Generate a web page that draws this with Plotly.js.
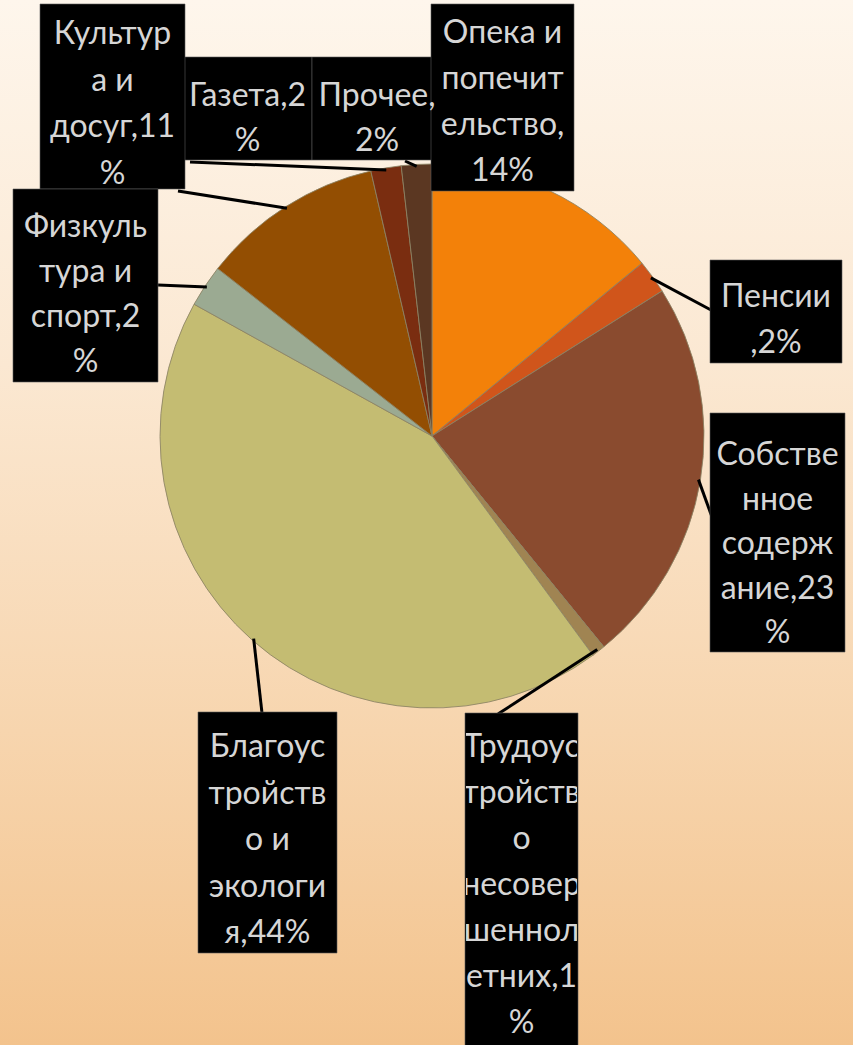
<!DOCTYPE html>
<html>
<head>
<meta charset="utf-8">
<script src="https://cdn.plot.ly/plotly-3.0.1.min.js"></script>
<style>
  html, body { margin: 0; padding: 0; }
  body {
    width: 853px; height: 1045px; overflow: hidden;
    background: linear-gradient(to bottom, #FEF6EC 0%, #FBE8D2 35%, #F7D5AE 70%, #F3C38D 100%);
  }
  #chart { width: 853px; height: 1045px; }
</style>
</head>
<body>
<div id="chart"></div>
<script>
// ---- Data ----
const labels = [
  'Опека и попечительство',
  'Пенсии',
  'Собственное содержание',
  'Трудоустройство несовершеннолетних',
  'Благоустройство и экология',
  'Физкультура и спорт',
  'Культура и досуг',
  'Газета',
  'Прочее'
];
const values = [14, 2, 23, 0.8, 43, 2.5, 10.8, 1.8, 1.8];
const colors = ['#F38109', '#D0551B', '#8A4B2F', '#A08452', '#C4BC72', '#9BAA92', '#934E02', '#7A2D10', '#5B3722'];
// label texts as drawn in the boxes (wrapped as in the original)
const labelLines = [
  ['Опека и', 'попечит', 'ельство,', '14%'],
  ['Пенсии', ',2%'],
  ['Собстве', 'нное', 'содерж', 'ание,23', '%'],
  ['Трудоус', 'тройств', 'о', 'несовер', 'шеннол', 'етних,1', '%'],
  ['Благоус', 'тройств', 'о и', 'экологи', 'я,44%'],
  ['Физкуль', 'тура и', 'спорт,2', '%'],
  ['Культур', 'а и', 'досуг,11', '%'],
  ['Газета,2', '%'],
  ['Прочее,', '2%']
];

// ---- Layout (positions, pixels) ----
const W = 853, H = 1045;
const pieCX = 432, pieCY = 436, pieR = 272;
// label boxes: [x0, y0, x1, y1, firstLineY, lineStep]
const boxes = [
  [431, 4, 574, 191, 30, 46],
  [710, 260, 842, 363, 294, 46],
  [710, 413, 845, 652, 452, 44.5],
  [465, 713, 578, 1050, 744, 46],
  [198, 712, 337, 953, 744, 46.5],
  [13, 189, 158, 382, 224, 45],
  [40, 4, 185, 189, 31, 46.5],
  [183, 57, 312, 160, 93, 45],
  [312, 57, 442, 160, 93, 45]
];
// where each leader line meets its box (null = no line)
const lineEnds = [null, [711, 310], [712, 517], [498, 714], [262, 713], [158, 285], [178, 191], [190, 162], [405, 161]];
// drawing order of boxes (later on top)
const boxOrder = [7, 8, 0, 6, 5, 1, 2, 3, 4];

const px = x => x / W;
const py = y => 1 - y / H;

// leader line start points from slice mid-angles
const total = values.reduce((a, b) => a + b, 0);
let cum = 0;
const shapes = [];
values.forEach((v, i) => {
  const mid = (cum + v / 2) / total * 2 * Math.PI;
  cum += v;
  if (!lineEnds[i]) return;
  const r = pieR - 2;
  const sx = pieCX + r * Math.sin(mid);
  const sy = pieCY - r * Math.cos(mid);
  shapes.push({
    type: 'line', xref: 'paper', yref: 'paper', layer: 'above',
    x0: px(sx), y0: py(sy), x1: px(lineEnds[i][0]), y1: py(lineEnds[i][1]),
    line: { color: '#000000', width: 3 }
  });
});
boxOrder.forEach(i => {
  const b = boxes[i];
  shapes.push({
    type: 'rect', xref: 'paper', yref: 'paper', layer: 'above',
    x0: px(b[0]), x1: px(b[2]), y0: py(b[3]), y1: py(b[1]),
    fillcolor: '#000000', line: { color: 'rgba(90,90,90,0.6)', width: 1 }
  });
});

const annotations = [];
boxOrder.forEach(i => {
  const b = boxes[i];
  const cx = (b[0] + b[2]) / 2;
  labelLines[i].forEach((t, k) => {
    annotations.push({
      xref: 'paper', yref: 'paper', showarrow: false,
      x: px(cx), y: py(b[4] + k * b[5]), xanchor: 'center', yanchor: 'middle',
      text: t, width: b[2] - b[0] - 2, height: 42, borderpad: 0,
      font: { family: 'Lato, "Noto Sans", sans-serif', size: 32, color: '#D6D6D6' }
    });
  });
});

const trace = {
  type: 'pie',
  labels: labels,
  values: values,
  sort: false,
  direction: 'clockwise',
  rotation: 0,
  textinfo: 'none',
  hoverinfo: 'skip',
  marker: { colors: colors, line: { color: 'rgba(140,130,100,0.85)', width: 1 } },
  domain: { x: [px(pieCX - pieR), px(pieCX + pieR)], y: [py(pieCY + pieR), py(pieCY - pieR)] }
};

const layout = {
  width: W, height: H,
  margin: { l: 0, r: 0, t: 0, b: 0 },
  paper_bgcolor: 'rgba(0,0,0,0)',
  plot_bgcolor: 'rgba(0,0,0,0)',
  showlegend: false,
  shapes: shapes,
  annotations: annotations
};

Plotly.newPlot('chart', [trace], layout, { staticPlot: true, displayModeBar: false });
</script>
</body>
</html>
